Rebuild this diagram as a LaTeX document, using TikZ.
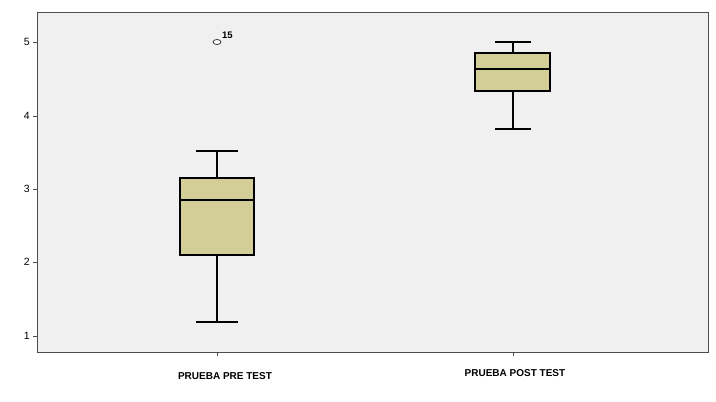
\documentclass[tikz,border=0pt]{standalone}
\usepackage{fontspec}
\usetikzlibrary{shapes.geometric}
\setmainfont{Liberation Sans}
\begin{document}
\begin{tikzpicture}[x=1pt,y=-1pt,
  boxst/.style={draw=black,line width=1.3pt,fill=boxfill},
  wh/.style={line width=1.3pt},
  lab/.style={font=\fontsize{10}{11}\selectfont\bfseries,inner sep=0pt},
  tick/.style={font=\fontsize{10.5}{11}\selectfont,inner sep=0pt,anchor=east}]
\definecolor{boxfill}{RGB}{211,206,151}
\definecolor{bg}{RGB}{240,240,240}
\useasboundingbox (0,0) rectangle (716,402);
\fill[white] (0,0) rectangle (716,402);
\draw[fill=bg,draw=black!70] (37,12) rectangle (708,352);
% y ticks
\foreach \v/\y in {5/42,4/116,3/189,2/262,1/336}{
  \draw[black!70] (33,\y) -- (37,\y);
  \node[tick] (t\v) at (30,\y) {\v};
}
\draw[black!70] (217,352) -- (217,356);
\draw[black!70] (513,352) -- (513,356);
% box 1
\draw[wh] (217,151) -- (217,178);
\draw[wh] (217,255) -- (217,322);
\draw[wh] (196,151) -- (238,151);
\draw[wh] (196,322) -- (238,322);
\node[boxst,minimum width=74pt,minimum height=77pt,inner sep=0pt] (b1) at (217,216.5) {};
\draw[line width=1.8pt] (180,200) -- (254,200);
\node[draw=black!80,fill=white,ellipse,minimum width=8pt,minimum height=5pt,inner sep=0pt,line width=0.8pt] (o15) at (217,42) {};
\node[font=\fontsize{9.5}{10}\selectfont\bfseries,inner sep=0pt,anchor=west] (l15) at (222,35) {15};
% box 2
\draw[wh] (513,42) -- (513,53);
\draw[wh] (513,91) -- (513,129);
\draw[wh] (495,42) -- (531,42);
\draw[wh] (495,129) -- (531,129);
\node[boxst,minimum width=75pt,minimum height=38pt,inner sep=0pt] (b2) at (512.5,72) {};
\draw[line width=1.8pt] (475,69) -- (550,69);
% labels
\node[lab] (x1) at (225,376) {PRUEBA PRE TEST};
\node[lab] (x2) at (515,373) {PRUEBA POST TEST};
\end{tikzpicture}
\end{document}
